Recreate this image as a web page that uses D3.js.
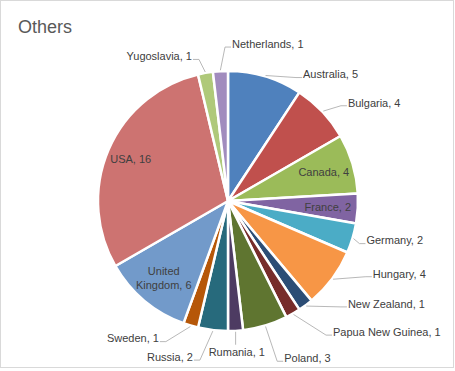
<!DOCTYPE html>
<html>
<head>
<meta charset="utf-8">
<script src="https://cdn.jsdelivr.net/npm/d3@7"></script>
<style>
  body { margin: 0; background: #fff; }
  svg { display: block; font-family: "Liberation Sans", Arial, sans-serif; }
</style>
</head>
<body>
<div id="chart"></div>
<script>
// data, clockwise from 12 o'clock
var countries = ['Australia', 'Bulgaria', 'Canada', 'France', 'Germany', 'Hungary',
  'New Zealand', 'Papua New Guinea', 'Poland', 'Rumania', 'Russia', 'Sweden',
  'United Kingdom', 'USA', 'Yugoslavia', 'Netherlands'];
var counts = [5, 4, 4, 2, 2, 4, 1, 1, 3, 1, 2, 1, 6, 16, 1, 1];
var colors = ['#4f81bd', '#c0504d', '#9bbb59', '#8064a2', '#4bacc6', '#f79646',
  '#2c4d75', '#772c2a', '#5f7530', '#4d3b62', '#276a7c', '#b65708',
  '#729aca', '#cd7371', '#afc97a', '#a18cbe'];

// labels drawn inside the slice
var insideLabels = ['Canada', 'France', 'United Kingdom', 'USA'];
// where excel pushed the outside labels: angle shift (deg) and distance from centre
var labelNudge = {
  'Netherlands': [4.8, 157], 'Yugoslavia': [-4, 149], 'Australia': [14, 147],
  'Bulgaria': [4, 155], 'Germany': [-0.7, 144], 'Hungary': [-10, 162],
  'New Zealand': [-12.7, 158], 'Papua New Guinea': [-8.7, 168], 'Poland': [-3, 167],
  'Rumania': [0, 151], 'Russia': [6, 160], 'Sweden': [10, 154]
};

var W = 455, H = 371;
var cx = 228, cy = 201, R = 130;
var fs = '11px';

var svg = d3.select('#chart').append('svg')
  .attr('width', W).attr('height', H);

svg.append('rect')
  .attr('x', 0.5).attr('y', 0.5)
  .attr('width', W - 2).attr('height', H - 4)
  .attr('fill', '#fff').attr('stroke', '#d9d9d9');

svg.append('text')
  .attr('x', 18).attr('y', 33)
  .attr('fill', '#595959')
  .style('font-size', '18px')
  .text('Others');

var rows = countries.map(function(c, i) {
  return { name: c, value: counts[i], color: colors[i] };
});

var pie = d3.pie().sort(null).value(function(d) { return d.value; });
var arcs = pie(rows);

var arc = d3.arc().innerRadius(0).outerRadius(R);

var g = svg.append('g').attr('transform', 'translate(' + cx + ',' + cy + ')');

g.selectAll('path.slice')
  .data(arcs).enter()
  .append('path')
  .attr('class', 'slice')
  .attr('d', arc)
  .attr('fill', function(d) { return d.data.color; })
  .attr('stroke', '#fff')
  .attr('stroke-width', 2.5)
  .attr('stroke-linejoin', 'round');

function polar(a, r) {
  return [r * Math.sin(a), -r * Math.cos(a)];
}

var deg = Math.PI / 180;

arcs.forEach(function(d) {
  var name = d.data.name;
  var mid = (d.startAngle + d.endAngle) / 2;
  var label = name + ', ' + d.data.value;

  if (insideLabels.indexOf(name) >= 0) {
    var p = polar(mid, name === 'USA' ? 106 : 100);
    var t = g.append('text')
      .attr('x', p[0]).attr('y', p[1])
      .attr('text-anchor', 'middle')
      .attr('fill', '#404040')
      .style('font-size', fs);
    if (name === 'United Kingdom') {
      t.append('tspan').attr('x', p[0]).attr('dy', '-0.25em').text('United');
      t.append('tspan').attr('x', p[0]).attr('dy', '1.3em').text('Kingdom, ' + d.data.value);
    } else {
      t.attr('dy', '0.35em').text(label);
    }
    return;
  }

  var nudge = labelNudge[name];
  var la = mid + nudge[0] * deg;
  var lp = polar(la, nudge[1]);
  // bottom-centre slices get a centred label, the rest go left or right
  var side = Math.abs(mid - Math.PI) < 5 * deg ? 0 : (lp[0] >= 0 ? 1 : -1);
  var anchor = side === 1 ? 'start' : (side === -1 ? 'end' : 'middle');

  var p0 = polar(mid, R + 1);
  var pts;
  if (side === 0) {
    pts = [p0, [p0[0], lp[1] - 7]];
  } else {
    var ly = lp[1] + 3;
    var end = [lp[0] - side * 1, ly];
    var elbow = [end[0] - side * 6, ly];
    pts = [p0, elbow, end];
  }

  g.append('path')
    .attr('d', d3.line()(pts))
    .attr('fill', 'none')
    .attr('stroke', '#a6a6a6')
    .attr('stroke-width', 0.8);

  g.append('text')
    .attr('x', lp[0]).attr('y', lp[1])
    .attr('dy', '0.35em')
    .attr('text-anchor', anchor)
    .attr('fill', '#404040')
    .style('font-size', fs)
    .text(label);
});
</script>
</body>
</html>
